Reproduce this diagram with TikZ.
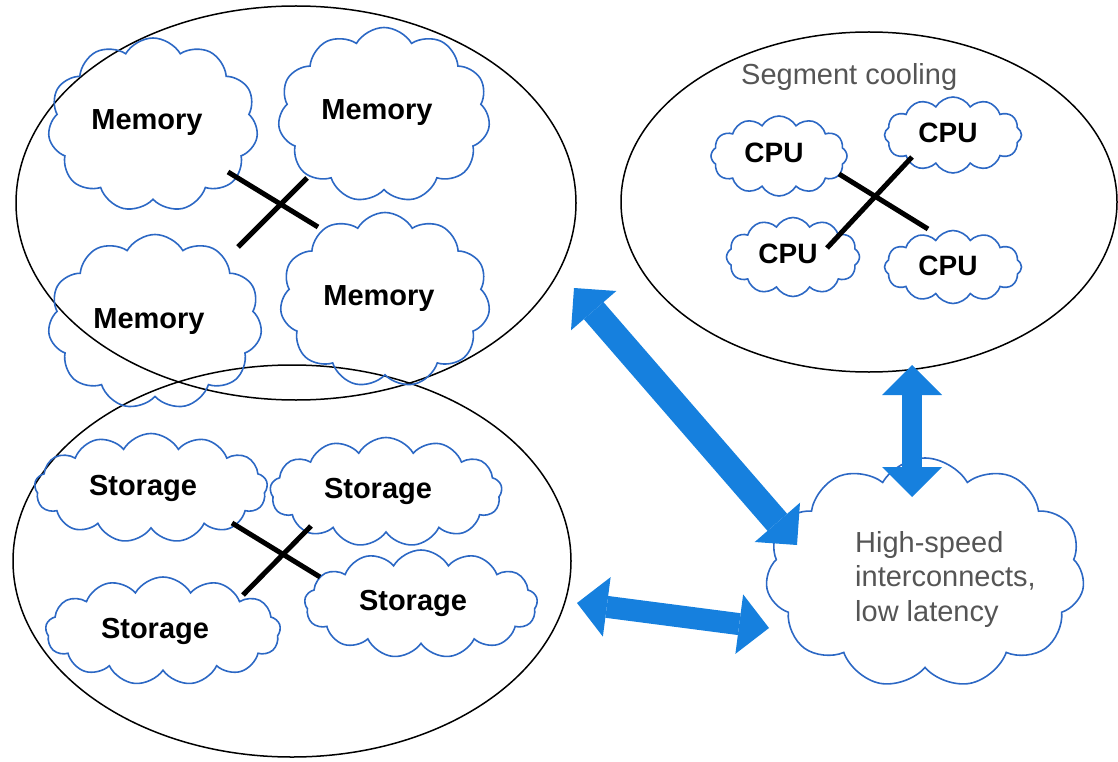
\documentclass[tikz,border=0pt]{standalone}
\usepackage{fontspec}
\setmainfont{Liberation Sans}
\usetikzlibrary{shapes.symbols,shapes.geometric,arrows.meta}
\definecolor{cloudblue}{RGB}{44,104,196}
\definecolor{arrowblue}{RGB}{22,128,222}
\definecolor{txtgray}{RGB}{85,85,85}
\begin{document}
\begin{tikzpicture}[x=1pt,y=-1pt,
  grp/.style={ellipse, draw=black, line width=1.5pt, inner sep=0pt},
  puff/.style={cloud, draw=cloudblue, line width=1.6pt, cloud puffs=#1,
    cloud puff arc=120, cloud ignores aspect, inner sep=0pt},
  boldlbl/.style={font=\fontsize{29}{34}\selectfont\bfseries, inner sep=0pt, anchor=base},
  cpulbl/.style={font=\fontsize{28}{34}\selectfont\bfseries, inner sep=0pt, anchor=base},
  graytxt/.style={font=\fontsize{29}{34.5}\selectfont, text=txtgray, inner sep=0pt},
  xline/.style={draw=black, line width=5pt},
  bigarrow/.style={draw=arrowblue, line width=#1,
    {Triangle[width=60pt,length=30pt,line width=0pt]}-{Triangle[width=60pt,length=30pt,line width=0pt]}}
]
\useasboundingbox (0,0) rectangle (1118,762);

% group ellipses
\node[grp, minimum width=560pt, minimum height=394pt] (memgrp) at (296,203) {};
\node[grp, minimum width=558pt, minimum height=392pt] (stogrp) at (292,561) {};
\node[grp, minimum width=496pt, minimum height=340pt] (cpugrp) at (869,202) {};

% memory clouds
\node[puff=11, minimum width=210pt, minimum height=174pt] (m1) at (153,125) {};
\node[puff=11, minimum width=212pt, minimum height=175pt] (m2) at (384,115) {};
\node[puff=11, minimum width=214pt, minimum height=175pt] (m3) at (155,322) {};
\node[puff=11, minimum width=210pt, minimum height=175pt] (m4) at (385,300) {};
\node[boldlbl] (m1t) at (147,130) {Memory};
\node[boldlbl] (m2t) at (377,120) {Memory};
\node[boldlbl] (m3t) at (149,328) {Memory};
\node[boldlbl] (m4t) at (379,305) {Memory};
\coordinate (ma1) at (228,172);
\coordinate (ma2) at (318,227);
\coordinate (mb1) at (238,247);
\coordinate (mb2) at (307,178);
\draw[xline] (ma1) -- (ma2);
\draw[xline] (mb1) -- (mb2);

% storage clouds
\node[puff=13, minimum width=233pt, minimum height=109pt] (s1) at (151,488) {};
\node[puff=13, minimum width=232pt, minimum height=109pt] (s2) at (386,492) {};
\node[puff=13, minimum width=235pt, minimum height=108pt] (s3) at (163,631) {};
\node[puff=13, minimum width=233pt, minimum height=108pt] (s4) at (421,604) {};
\node[boldlbl] (s1t) at (143,495) {Storage};
\node[boldlbl] (s2t) at (378,498) {Storage};
\node[boldlbl] (s3t) at (155,638) {Storage};
\node[boldlbl] (s4t) at (413,610) {Storage};
\coordinate (sa1) at (232,523);
\coordinate (sa2) at (320,577);
\coordinate (sb1) at (243,595);
\coordinate (sb2) at (311,526);
\draw[xline] (sa1) -- (sa2);
\draw[xline] (sb1) -- (sb2);

% cpu clouds
\node[graytxt, anchor=base west] (seg) at (741,85) {Segment cooling};
\node[puff=12, minimum width=136pt, minimum height=80pt] (c1) at (779,156) {};
\node[puff=12, minimum width=137pt, minimum height=76pt] (c2) at (953,135) {};
\node[puff=12, minimum width=133pt, minimum height=79pt] (c3) at (793,257) {};
\node[puff=12, minimum width=137pt, minimum height=73pt] (c4) at (953,267) {};
\node[cpulbl] (c1t) at (774,163) {CPU};
\node[cpulbl] (c2t) at (948,143) {CPU};
\node[cpulbl] (c3t) at (788,263) {CPU};
\node[cpulbl] (c4t) at (948,275) {CPU};
\coordinate (ca1) at (839,174);
\coordinate (ca2) at (928,229);
\coordinate (cb1) at (827,248);
\coordinate (cb2) at (912,157);
\draw[xline] (ca1) -- (ca2);
\draw[xline] (cb1) -- (cb2);

% hub cloud
\node[puff=11, minimum width=319pt, minimum height=230pt] (hub) at (925,573) {};
\node[graytxt, anchor=base west, align=left] (hubt) at (855,621)
  {High-speed\\interconnects,\\low latency};

% big arrows
\coordinate (dA) at (574,288);
\coordinate (dB) at (797,545);
\coordinate (hA) at (577,603);
\coordinate (hB) at (769,628);
\coordinate (vA) at (912,365);
\coordinate (vB) at (912,497);
\draw[bigarrow=26pt] (dA) -- (dB);
\draw[bigarrow=22pt] (hA) -- (hB);
\draw[bigarrow=20pt] (vA) -- (vB);
\end{tikzpicture}
\end{document}
